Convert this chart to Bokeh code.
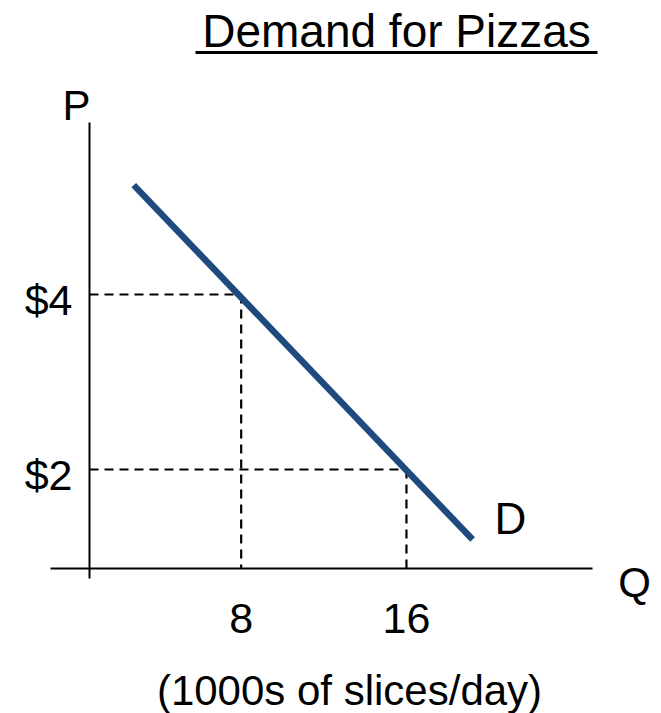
from bokeh.plotting import figure
from bokeh.models import Range1d
from bokeh.core.properties import value
from bokeh.embed import file_html
from bokeh.resources import INLINE

# ---- data ----
demand_q = [2.8, 19.2]          # quantity (1000s of slices/day) at the ends of D
demand_p = [5.25, 1.2]          # price ($) at the ends of D
marked_q = [8, 16]              # marked quantities
marked_p = [4, 2]               # marked prices
q_tick_labels = ["8", "16"]
p_tick_labels = ["$4", "$2"]
title_text = "Demand for Pizzas"
x_label_text = "(1000s of slices/day)"
curve_label = "D"

# ---- layout (pixel scale of the drawing) ----
W, H = 661, 713
MARGIN = 0
PX_PER_Q = 20.66
PX_PER_P = 87.5
Q_ZERO_PX = 75.4 - MARGIN      # figure-x pixel of Q = 0
P_ZERO_PX = 644.0 - MARGIN     # figure-y pixel (from top) of P = 0

x_start = -Q_ZERO_PX / PX_PER_Q
x_end = (W - Q_ZERO_PX) / PX_PER_Q
y_end = P_ZERO_PX / PX_PER_P
y_start = (P_ZERO_PX - H) / PX_PER_P

TEXT_DY = -15   # correction of the rendered baseline (screen px)


def qx(px):
    """page pixel x -> Q units"""
    return (px - MARGIN - Q_ZERO_PX) / PX_PER_Q


def py(px):
    """page pixel y -> P units"""
    return (P_ZERO_PX - (px - MARGIN)) / PX_PER_P


AXIS_Q = qx(89)
AXIS_P = py(568)

FONT = value("Liberation Sans")
FS = "42px"
DASH = "9 6"

p = figure(width=W, height=H, x_range=Range1d(x_start, x_end), y_range=Range1d(y_start, y_end),
           output_backend="svg", toolbar_location=None, min_border=0,
           x_axis_location=None, y_axis_location=None)
p.grid.visible = False
p.outline_line_color = None
p.background_fill_color = "white"
p.border_fill_color = "white"

# axes
p.segment(x0=[AXIS_Q], y0=[py(122)], x1=[AXIS_Q], y1=[py(578)], line_color="black", line_width=2)
p.segment(x0=[qx(50)], y0=[AXIS_P], x1=[qx(592)], y1=[AXIS_P], line_color="black", line_width=2)

# dashed guides
p.segment(x0=[AXIS_Q] * len(marked_q), y0=marked_p, x1=marked_q, y1=marked_p,
          line_color="black", line_width=2.2, line_dash=DASH)
p.segment(x0=marked_q, y0=marked_p, x1=marked_q, y1=[AXIS_P] * len(marked_q),
          line_color="black", line_width=2.2, line_dash=DASH)

# demand curve
p.line(demand_q, demand_p, line_color="#1F4A7E", line_width=6.5, line_cap="butt")

common = dict(text_font=FONT, text_baseline="alphabetic", text_color="black")

# tick labels
p.text(x=marked_q, y=[py(633)] * len(marked_q), text=q_tick_labels, text_align="center",
       text_font_size="43px", y_offset=TEXT_DY, **common)
p.text(x=[qx(72)] * len(marked_p), y=marked_p, text=p_tick_labels, text_align="right",
       text_font_size="43px", y_offset=20 + TEXT_DY, **common)

# axis letters, curve label, axis title
p.text(x=[qx(76)], y=[py(120)], text=["P"], text_align="center", text_font_size=FS,
       y_offset=TEXT_DY, **common)
p.text(x=[qx(634)], y=[py(597)], text=["Q"], text_align="center", text_font_size=FS,
       y_offset=TEXT_DY, **common)
p.text(x=[qx(510)], y=[py(533)], text=[curve_label], text_align="center", text_font_size="44px",
       y_offset=TEXT_DY, **common)
p.text(x=[qx(349)], y=[py(705)], text=[x_label_text], text_align="center", text_font_size=FS,
       y_offset=TEXT_DY, **common)

# title with underline
p.text(x=[qx(396)], y=[py(45)], text=[title_text], text_align="center", text_font_size="46px",
       y_offset=TEXT_DY, **common)
p.segment(x0=[qx(195)], y0=[py(52)], x1=[qx(597)], y1=[py(52)], line_color="black", line_width=3)

open("out.html", "w").write(file_html(p, INLINE))
